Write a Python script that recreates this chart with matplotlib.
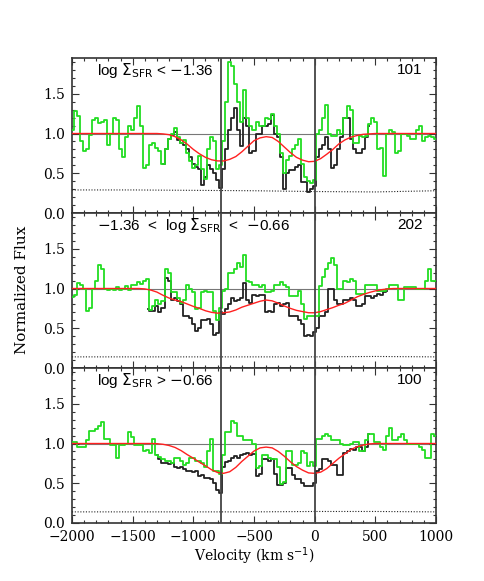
import matplotlib.pyplot as plt
import numpy as np
from matplotlib.ticker import MultipleLocator, FormatStrFormatter

# velocity grid of the spectra (km/s), 25 km/s bins
vel = np.arange(-2000, 1001, 25)
# grid of the fitted model curves
model_vel = np.arange(-2000, 1001, 50)

# panel 1: log SFR < -1.36
green1 = [1.05, 1.28, 1.22, 0.9, 0.78, 0.8, 0.98, 1.17, 1.2, 1.13,
          1.15, 1.17, 0.85, 1.0, 1.2, 1.17, 0.8, 0.71, 0.95, 1.1,
          1.05, 1.2, 1.34, 1.1, 0.56, 0.6, 0.85, 0.88, 0.82, 0.78,
          0.62, 0.8, 0.93, 1.0, 1.07, 0.95, 0.88, 0.92, 0.76, 0.66,
          0.57, 0.6, 0.72, 0.55, 0.43, 0.8, 0.95, 0.9, 0.55, 0.6,
          0.9, 1.4, 1.9, 1.85, 1.62, 1.4, 1.15, 1.55, 1.2, 1.1,
          1.05, 1.15, 1.1, 1.1, 1.2, 1.18, 1.25, 1.1, 1.0, 0.75,
          0.5, 0.67, 0.72, 0.8, 0.85, 0.93, 0.62, 0.45, 0.4, 0.38,
          0.42, 1.0, 1.05, 1.2, 1.36, 1.0, 0.97, 0.97, 1.05, 1.0,
          1.2, 1.35, 1.3, 0.88, 0.88, 0.97, 0.95, 0.97, 1.12, 1.2,
          1.15, 0.8, 0.82, 0.47, 1.0, 1.05, 1.02, 0.75, 0.78, 1.0,
          1.0, 0.97, 0.93, 0.93, 1.05, 1.1, 0.9, 0.95, 0.97, 0.95, 0.93]
black1_range = (-1250, 450)
black1 = [0.62, 0.8, 0.93, 0.98, 1.02, 0.92, 0.88, 0.86, 0.8, 0.7,
          0.62, 0.58, 0.55, 0.35, 0.45, 0.6, 0.55, 0.5, 0.42, 0.32,
          0.55, 0.8, 1.05, 1.2, 1.32, 1.05, 0.84, 1.19, 1.1, 0.75,
          0.78, 1.0, 1.0, 1.1, 1.1, 1.12, 1.23, 1.0, 0.95, 0.7,
          0.3, 0.5, 0.54, 0.54, 0.58, 0.6, 0.39, 0.39, 0.26, 0.3,
          0.34, 0.71, 0.8, 0.85, 0.95, 0.8, 0.56, 0.6, 0.8, 0.95,
          1.2, 1.2, 0.93, 0.8, 0.75, 0.75, 0.8, 0.95, 1.1]
model1 = [1.0] * 15 + [0.995, 0.985, 0.96, 0.92, 0.865, 0.80, 0.745, 0.70, 0.67, 0.655,
                      0.655, 0.675, 0.71, 0.77, 0.84, 0.91, 0.945, 0.96, 0.95, 0.9,
                      0.83, 0.76, 0.70, 0.665, 0.645, 0.65, 0.685, 0.74, 0.80, 0.87,
                      0.92, 0.955, 0.975, 0.99, 0.995] + [1.0] * 11

# panel 2: -1.36 < log SFR < -0.66
green2 = [0.89, 0.92, 1.07, 1.05, 1.0, 0.72, 0.75, 0.99, 1.1, 1.3,
          1.25, 0.99, 0.98, 1.0, 0.98, 1.02, 0.98, 1.0, 1.03, 0.98,
          1.05, 1.05, 1.08, 1.06, 1.1, 1.12, 0.73, 0.78, 0.86, 0.8,
          0.84, 1.24, 1.2, 0.95, 0.95, 0.88, 0.82, 0.85, 1.05, 1.0,
          0.95, 0.74, 0.76, 0.96, 0.97, 0.95, 0.96, 0.72, 0.61, 0.75,
          0.97, 1.0, 1.2, 1.2, 1.25, 1.32, 1.27, 1.42, 1.1, 1.08,
          1.05, 1.05, 1.02, 1.05, 0.95, 0.95, 0.97, 1.05, 1.05, 1.08,
          1.05, 1.02, 0.9, 0.9, 0.9, 0.97, 0.8, 0.62, 0.66, 0.65,
          0.65, 0.66, 1.03, 1.15, 1.24, 1.32, 1.38, 1.3, 1.0, 1.0,
          1.1, 1.08, 1.12, 1.1, 0.93, 0.93, 0.93, 1.05, 1.05, 1.05,
          1.05, 0.97, 0.97, 0.97, 1.0, 1.05, 1.05, 1.05, 0.86, 0.86,
          1.02, 1.02, 1.02, 1.02, 0.99, 0.99, 0.99, 1.1, 1.24, 1.1, 1.1]
black2_range = (-1375, 600)
black2 = [0.74, 0.72, 0.72, 0.78, 0.7, 0.75, 1.13, 1.1, 0.85, 0.88,
          0.84, 0.8, 0.65, 0.66, 0.63, 0.55, 0.47, 0.5, 0.61, 0.6,
          0.62, 0.55, 0.42, 0.44, 0.7, 0.68, 0.74, 0.8, 0.88, 0.84,
          0.86, 0.88, 1.07, 0.85, 0.82, 0.92, 0.9, 0.92, 0.92, 0.7,
          0.72, 0.7, 0.8, 0.82, 0.78, 0.8, 0.82, 0.65, 0.65, 0.66,
          0.6, 0.55, 0.4, 0.42, 0.4, 0.45, 0.5, 0.65, 0.65, 0.7,
          0.99, 0.99, 0.85, 0.8, 0.8, 0.86, 0.86, 0.88, 0.85, 0.78,
          0.78, 0.8, 0.9, 0.9, 0.88, 0.9, 0.93, 0.92, 0.95, 0.97]
model2 = [1.0] * 12 + [0.995, 0.98, 0.955, 0.915, 0.88, 0.855, 0.835, 0.805, 0.775, 0.75,
                      0.72, 0.70, 0.69, 0.695, 0.705, 0.73, 0.765, 0.79, 0.815, 0.84,
                      0.855, 0.845, 0.815, 0.78, 0.75, 0.725, 0.71, 0.695, 0.695, 0.71,
                      0.735, 0.76, 0.79, 0.815, 0.855, 0.895, 0.925, 0.95, 0.97, 0.985,
                      0.995] + [1.0] * 8

# panel 3: log SFR > -0.66
green3 = [1.02, 1.02, 0.96, 0.96, 0.96, 1.05, 1.16, 1.16, 1.18, 1.22,
          1.27, 1.06, 1.06, 0.98, 0.98, 0.82, 0.98, 0.98, 1.0, 1.14,
          1.08, 0.98, 0.98, 0.98, 0.9, 0.92, 0.88, 1.06, 0.85, 0.83,
          0.8, 0.78, 0.78, 0.76, 0.82, 0.82, 0.78, 0.73, 0.75, 0.82,
          0.82, 0.78, 0.78, 0.76, 0.7, 0.9, 1.06, 0.65, 0.65, 0.62,
          0.85, 1.14, 1.14, 1.28, 1.26, 1.1, 1.1, 1.04, 1.04, 1.04,
          1.0, 0.69, 0.72, 0.86, 0.86, 0.82, 0.8, 0.8, 0.7, 0.49,
          0.52, 0.9, 0.9, 0.73, 0.73, 0.75, 0.9, 0.88, 0.72, 0.77,
          0.72, 1.06, 1.06, 1.1, 1.12, 1.1, 1.04, 1.04, 1.04, 1.0,
          0.98, 0.98, 1.0, 1.02, 1.02, 0.9, 0.9, 1.05, 1.12, 1.12,
          1.02, 1.02, 0.95, 0.92, 1.1, 1.2, 1.04, 1.04, 1.08, 1.12,
          1.05, 1.0, 1.0, 1.0, 1.0, 0.95, 0.92, 0.82, 0.82, 1.12, 1.1]
black3_range = (-1300, 450)
black3 = [0.85, 0.8, 0.76, 0.75, 0.74, 0.75, 0.7, 0.69, 0.7, 0.68,
          0.66, 0.65, 0.64, 0.66, 0.59, 0.6, 0.56, 0.57, 0.55, 0.5,
          0.42, 0.38, 0.7, 0.77, 0.78, 0.82, 0.84, 0.82, 0.86, 0.87,
          0.88, 0.86, 0.87, 0.59, 0.62, 0.8, 0.8, 0.78, 0.8, 0.62,
          0.48, 0.48, 0.5, 0.69, 0.69, 0.6, 0.55, 0.55, 0.5, 0.47,
          0.47, 0.46, 0.5, 0.65, 0.68, 0.8, 0.8, 0.78, 0.73, 0.73,
          0.61, 0.61, 0.88, 0.9, 0.93, 0.92, 0.96, 0.96, 0.9, 0.95, 1.12]
model3 = [1.0] * 14 + [0.998, 0.99, 0.975, 0.95, 0.91, 0.86, 0.815, 0.765, 0.72, 0.67,
                      0.635, 0.625, 0.645, 0.70, 0.775, 0.84, 0.905, 0.945, 0.955, 0.945,
                      0.9, 0.84, 0.77, 0.71, 0.665, 0.63, 0.625, 0.64, 0.685, 0.75,
                      0.815, 0.87, 0.925, 0.96, 0.98, 0.995] + [1.0] * 11

# error spectra, sampled every 500 km/s
err_vel = [-2000, -1500, -1000, -500, 0, 500, 1000]
err1 = [0.29, 0.29, 0.285, 0.28, 0.27, 0.265, 0.28]
err2 = [0.14, 0.14, 0.14, 0.14, 0.14, 0.145, 0.14]
err3 = [0.14, 0.14, 0.14, 0.14, 0.145, 0.145, 0.14]

labels = [r'log $\Sigma_{\rm SFR}$ < $-$1.36',
          r'$-$1.36  <  log $\Sigma_{\rm SFR}$  <  $-$0.66',
          r'log $\Sigma_{\rm SFR}$ > $-$0.66']
counts = ['101', '202', '100']
v_lines = [-770, 0]

panels = [(green1, black1_range, black1, model1, err1),
          (green2, black2_range, black2, model2, err2),
          (green3, black3_range, black3, model3, err3)]

fig = plt.figure(figsize=(4.85, 5.81), dpi=100)
left, right = 72 / 485, 436 / 485
top, bottom = 1 - 58 / 581, 1 - 523 / 581
h = (top - bottom) / 3

for i, (green, brange, black, model, err) in enumerate(panels):
    ax = fig.add_axes([left, top - (i + 1) * h, right - left, h])
    bvel = vel[(vel >= brange[0]) & (vel <= brange[1])]

    ax.axhline(1.0, color='#777777', lw=0.8, zorder=1)
    ax.step(bvel, black, where='mid', color='#222222', lw=1.3, zorder=2)
    ax.step(vel, green, where='mid', color='#22dd22', lw=1.3, zorder=3)
    ax.plot(model_vel, model, color='#ff2020', lw=1.0, zorder=4)
    ax.plot(err_vel, err, color='#222222', lw=0.8, ls=(0, (1, 1.5)), zorder=4)
    for vl in v_lines:
        ax.axvline(vl, color='#444444', lw=1.3, zorder=5)

    ax.set_xlim(-2000, 1000)
    ax.set_ylim(0, 1.95)
    ax.xaxis.set_major_locator(MultipleLocator(500))
    ax.xaxis.set_minor_locator(MultipleLocator(100))
    ax.yaxis.set_major_locator(MultipleLocator(0.5))
    ax.yaxis.set_minor_locator(MultipleLocator(0.1))
    ax.yaxis.set_major_formatter(FormatStrFormatter('%.1f'))
    ax.tick_params(which='both', direction='in', top=True, right=True,
                   labelsize=10, pad=5, color='#333333')
    ax.tick_params(which='major', length=5, width=0.8)
    ax.tick_params(which='minor', length=2.5, width=0.8)
    for lab in ax.get_xticklabels() + ax.get_yticklabels():
        lab.set_family('DejaVu Serif')
    for sp in ax.spines.values():
        sp.set_linewidth(1.2)
        sp.set_color('#333333')
    if i < 2:
        ax.tick_params(labelbottom=False)

    ax.text(0.069, 0.92, labels[i], transform=ax.transAxes, ha='left', va='center',
            fontsize=11, family='Liberation Sans')
    ax.text(0.963, 0.92, counts[i], transform=ax.transAxes, ha='right', va='center',
            fontsize=11, family='Liberation Sans')

    if i == 2:
        ax.set_xlabel(r'Velocity (km s$^{-1}$)', fontsize=10, family='DejaVu Serif',
                      labelpad=1)

fig.text(22 / 485, 1 - 290 / 581, 'Normalized Flux', rotation=90, ha='center',
         va='center', fontsize=11, family='DejaVu Serif')

fig.savefig('out.png', dpi=100)
